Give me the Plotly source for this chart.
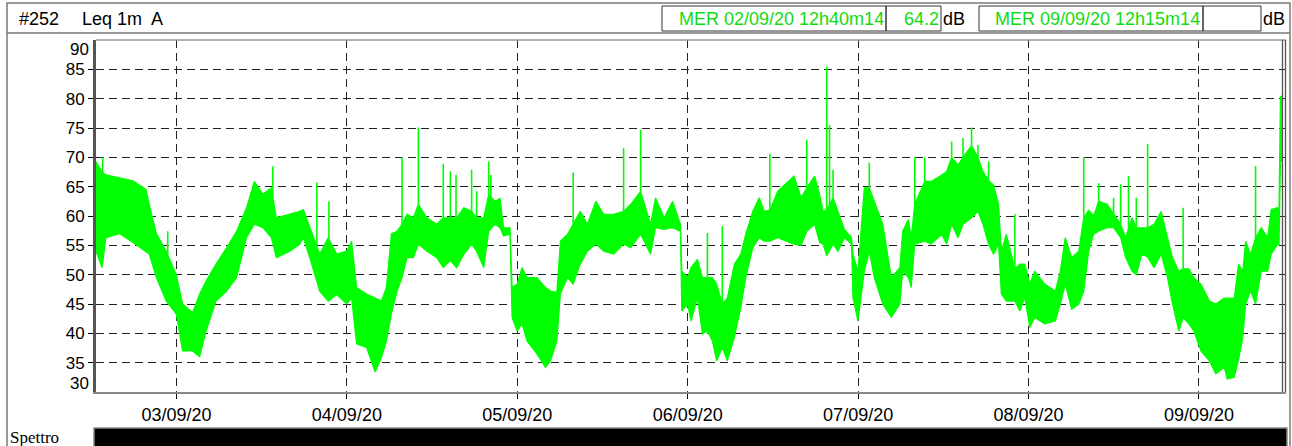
import numpy as np
import pandas as pd
import plotly.graph_objects as go

# ---------------- data ----------------
start_time = "2020-09-02 12:40:14"
end_time = "2020-09-09 12:15:14"

# hours after start_time
t_hours = [
    0, 0.85, 1.41, 3.3, 5.2, 7.06, 7.5, 8.5, 9.9, 11.3, 12.2, 13.6, 14.6, 15.5, 16.9, 18.4, 19.8, 21.2, 22.3, 23.5, 24.7, 25.4, 27.3, 28.7,
    29.2, 30.1, 31.5, 32.7, 33.9, 35.3, 36.0, 36.7, 38.1, 39.3, 40.2, 40.9, 41.6, 42.4, 43.1, 43.8, 44.7, 45.4, 46.6, 48.0, 48.9, 49.9, 50.8, 51.8, 52.9, 53.6, 54.6, 55.3, 56.2, 56.9,
    57.4, 58.3, 58.6, 59.3, 60.0, 60.7, 62.1, 63.3, 64.0, 64.9, 65.4, 66.4, 67.2, 68.2, 69.2, 70.4, 71.5, 72.9, 74.3, 75.3, 76.7, 78.1, 78.8, 80.0, 81.2, 82.3, 82.5, 83.3, 83.8, 84.7,
    85.4, 86.1, 86.8, 87.4, 88.2, 88.9, 89.9, 90.8, 91.5, 92.5, 93.4, 94.1, 94.9, 96.0, 97.2, 98.3, 99.3, 100.1, 101.2, 101.9, 102.4, 102.9, 103.8, 104.5, 105.4, 106.4, 106.6, 107.3, 108.2, 108.9, 109.6, 110.8, 112.0, 113.2,
    113.6, 114.4, 114.8, 115.3, 116.7, 117.6, 119.1, 119.8, 120.5, 121.4, 122.1, 123.3, 124.2, 124.9, 125.7, 126.4, 127.1, 127.5, 128.2, 129.4, 130.1, 130.8, 131.5, 132.2, 133.6, 135.1, 135.8, 136.5, 137.4, 138.4, 139.1, 139.8, 140.5, 141.2,
    142.4, 143.3, 144.3, 145.0, 145.9, 146.5, 147.3, 148.1, 149.0, 150.0, 150.9, 151.6, 152.5, 153.1, 153.9, 154.6, 155.6, 156.8, 157.7, 158.9, 159.3, 160.3, 160.9, 161.5, 161.9, 162.6, 163.3, 164.1, 165.0, 165.5, 166.4, 166.6, 166.8, 167.0,
]

# upper envelope of Leq 1m (dB)
leq_high = [
    69.3, 67.5, 67.0, 66.5, 66.0, 64.5, 62.0, 57.0, 54.0, 50.0, 45.0, 43.5, 46.7, 48.9, 51.8, 54.6, 57.4, 61.4, 65.9, 63.7, 64.8, 59.7, 60.3, 60.8,
    61.1, 58.0, 53.5, 56.3, 53.5, 54.0, 55.7, 47.8, 46.7, 46.0, 45.5, 47.8, 57.0, 57.4, 58.6, 60.3, 59.7, 62.0, 59.7, 58.6, 59.7, 59.7, 59.7, 61.4, 60.8, 59.7, 59.7, 63.7, 62.5, 63.0,
    58.0, 58.0, 47.8, 48.4, 51.2, 49.5, 49.5, 47.8, 47.2, 47.0, 55.7, 56.9, 58.6, 60.8, 58.6, 62.5, 60.3, 60.3, 60.8, 62.0, 64.2, 58.6, 63.1, 59.7, 62.5, 58.6, 50.6, 49.5, 51.2, 52.6,
    49.5, 49.5, 49.5, 48.4, 45.0, 46.0, 51.8, 53.5, 56.9, 60.8, 63.1, 60.8, 61.0, 64.2, 65.6, 66.8, 63.1, 64.8, 66.8, 63.7, 60.8, 61.0, 63.1, 60.8, 57.7, 56.3, 53.5, 50.6, 64.8, 64.8, 62.5, 58.6, 49.5, 51.2,
    57.4, 59.4, 56.3, 62.0, 65.9, 65.9, 67.0, 67.6, 70.0, 68.7, 70.0, 72.0, 70.0, 67.6, 66.0, 65.3, 62.0, 54.0, 56.9, 51.0, 51.8, 51.8, 48.4, 50.6, 48.4, 47.2, 50.6, 56.3, 52.9, 54.0, 59.7, 61.0, 60.0, 62.5,
    62.0, 60.3, 58.6, 56.3, 59.7, 58.0, 58.0, 58.0, 58.6, 60.8, 56.3, 52.9, 50.6, 51.0, 51.0, 49.5, 48.4, 45.5, 45.0, 46.0, 46.0, 46.0, 51.8, 50.6, 55.7, 53.5, 56.3, 58.0, 56.3, 61.1, 61.4, 61.0, 80.4, 80.4,
]

# lower envelope of Leq 1m (dB)
leq_low = [
    54.0, 51.2, 56.3, 57.0, 55.5, 54.0, 53.5, 49.5, 45.5, 43.3, 37.0, 37.0, 36.0, 40.4, 45.5, 47.2, 49.5, 56.3, 58.6, 58.0, 56.3, 52.9, 54.0, 55.2,
    56.3, 52.9, 47.2, 45.5, 46.6, 45.0, 46.0, 38.2, 37.6, 33.4, 35.9, 38.7, 43.3, 47.2, 49.5, 52.9, 52.9, 55.2, 54.0, 52.9, 51.2, 52.4, 51.2, 53.5, 55.2, 54.0, 51.2, 57.4, 58.6, 58.0,
    56.6, 56.9, 42.7, 40.4, 41.6, 38.7, 36.5, 34.2, 35.3, 38.7, 46.7, 49.5, 48.4, 51.8, 54.0, 55.2, 54.0, 53.5, 55.2, 54.6, 56.9, 53.5, 58.0, 57.7, 58.0, 57.4, 43.8, 45.0, 42.1, 46.1,
    39.9, 40.4, 38.7, 35.3, 37.6, 35.3, 39.3, 44.4, 49.5, 54.6, 56.3, 55.7, 55.7, 56.3, 55.7, 55.2, 55.0, 57.4, 58.6, 55.5, 55.2, 53.2, 55.2, 54.0, 56.3, 55.2, 46.1, 42.1, 50.6, 54.0, 49.5, 45.0, 42.7, 45.0,
    50.6, 49.5, 47.8, 55.2, 55.7, 55.2, 56.9, 55.2, 58.6, 56.3, 58.6, 59.7, 60.8, 58.6, 55.2, 53.5, 55.2, 46.7, 45.5, 45.5, 43.8, 46.1, 41.0, 42.7, 41.6, 42.1, 45.0, 48.4, 44.1, 45.0, 47.2, 54.0, 56.9, 57.4,
    58.0, 58.0, 56.3, 52.9, 50.6, 50.0, 53.5, 53.0, 51.2, 53.5, 49.5, 45.0, 40.4, 42.7, 41.6, 40.4, 37.0, 35.3, 33.1, 34.2, 32.2, 32.5, 35.5, 39.3, 45.0, 47.2, 45.0, 50.6, 50.6, 53.5, 55.2, 55.0, 69.3, 69.3,
]

# isolated short peaks
peak_hours = [0.94, 10.1, 24.9, 31.1, 32.8, 43.1, 45.4, 48.9, 49.9, 50.7, 52.9, 53.6, 55.3, 55.6,
              67.2, 74.3, 76.7, 86.1, 88.2, 94.9, 100.1, 102.9, 103.3, 103.8, 108.9,
              115.3, 116.7, 120.5, 122.1, 123.3, 124.2, 125.7, 129.4, 139.1, 141.2,
              143.3, 144.3, 145.4, 146.5, 148.1, 153.1, 163.3]
peak_values = [70.0, 57.4, 68.5, 65.7, 62.5, 70.0, 75.1, 68.9, 67.6, 67.0, 67.9, 64.2, 69.3, 67.0,
               67.4, 71.6, 74.7, 57.1, 58.3, 70.6, 73.0, 85.5, 75.5, 67.9, 69.1,
               70.0, 70.0, 72.7, 73.3, 75.1, 72.1, 69.3, 60.3, 70.0, 65.6,
               63.1, 65.4, 66.8, 63.1, 72.3, 61.4, 68.5]

date_ticks = ["2020-09-03", "2020-09-04", "2020-09-05", "2020-09-06", "2020-09-07", "2020-09-08", "2020-09-09"]
date_labels = ["03/09/20", "04/09/20", "05/09/20", "06/09/20", "07/09/20", "08/09/20", "09/09/20"]
y_ticks = [35, 40, 45, 50, 55, 60, 65, 70, 75, 80, 85]

header_left = "#252"
header_mode = "Leq 1m  A"
cursor1 = "MER 02/09/20 12h40m14"
cursor1_val = "64.2"
cursor2 = "MER 09/09/20 12h15m14"
cursor2_val = ""
unit = "dB"
bottom_label = "Spettro"

# ---------------- figure ----------------
GREEN = "#00ff00"
TXT_GREEN = "#10dc10"
SANS = "Liberation Sans, Arial, sans-serif"
SERIF = "Liberation Serif, Times New Roman, serif"

t0 = pd.Timestamp(start_time)
times = t0 + pd.to_timedelta(t_hours, unit="h")
ptimes = t0 + pd.to_timedelta(peak_hours, unit="h")

fig = go.Figure()
fig.add_trace(go.Scatter(x=times, y=leq_low, mode="lines",
                         line=dict(color=GREEN, width=1.2), hoverinfo="skip", showlegend=False))
fig.add_trace(go.Scatter(x=times, y=leq_high, mode="lines", fill="tonexty", fillcolor=GREEN,
                         line=dict(color=GREEN, width=1.2), hoverinfo="skip", showlegend=False))

base = np.interp(peak_hours, t_hours, leq_high)
px_, py_ = [], []
for tt, b, v in zip(ptimes, base, peak_values):
    px_ += [tt, tt, None]
    py_ += [b, v, None]
fig.add_trace(go.Scatter(x=px_, y=py_, mode="lines", line=dict(color=GREEN, width=1.6),
                         hoverinfo="skip", showlegend=False))

# plot-area geometry in pixels
W, H = 1292, 446
L, R, T, B = 96, 1286, 40, 392


def xp(px):
    return (px - L) / (R - L)


def yp(py):
    return (B - py) / (B - T)


shapes = []
GREY = "#7a7a7a"
# outer frame
shapes.append(dict(type="rect", xref="paper", yref="paper", x0=xp(7), x1=xp(1290), y0=yp(3), y1=yp(460),
                   line=dict(color=GREY, width=1.5), layer="above"))
# header separator
shapes.append(dict(type="line", xref="paper", yref="paper", x0=xp(7), x1=xp(1290), y0=yp(33), y1=yp(33),
                   line=dict(color=GREY, width=1.5)))
# header boxes
for a, b in [(662, 886), (886, 941), (979, 1203), (1203, 1261)]:
    shapes.append(dict(type="rect", xref="paper", yref="paper", x0=xp(a), x1=xp(b), y0=yp(6), y1=yp(31),
                       line=dict(color="#333333", width=1)))
# plot top line
shapes.append(dict(type="line", xref="paper", yref="paper", x0=0, x1=1, y0=1, y1=1,
                   line=dict(color="#999999", width=1.5), layer="above"))
# right double border
for x in (1282.5, 1285.5):
    shapes.append(dict(type="line", xref="paper", yref="paper", x0=xp(x), x1=xp(x), y0=0, y1=1,
                       line=dict(color="#555555", width=1.3), layer="above"))
# spectrum bar
shapes.append(dict(type="rect", xref="paper", yref="paper", x0=xp(94), x1=xp(1287), y0=yp(428), y1=yp(452),
                   fillcolor="black", line=dict(color="#888888", width=1.5)))

ann = []
ann.append(dict(text=header_left, x=xp(17), y=yp(19), xref="paper", yref="paper", xanchor="left",
                yanchor="middle", showarrow=False, font=dict(family=SANS, size=18, color="black")))
ann.append(dict(text=header_mode, x=xp(80), y=yp(19), xref="paper", yref="paper", xanchor="left",
                yanchor="middle", showarrow=False, font=dict(family=SANS, size=18, color="black")))
ann.append(dict(text=cursor1, x=xp(886), y=yp(19), xref="paper", yref="paper", xanchor="right",
                yanchor="middle", showarrow=False, font=dict(family=SANS, size=18, color=TXT_GREEN)))
ann.append(dict(text=cursor1_val, x=xp(941), y=yp(19), xref="paper", yref="paper", xanchor="right",
                yanchor="middle", showarrow=False, font=dict(family=SANS, size=18, color=TXT_GREEN)))
ann.append(dict(text=unit, x=xp(941), y=yp(19), xref="paper", yref="paper", xanchor="left",
                yanchor="middle", showarrow=False, font=dict(family=SANS, size=18, color="black")))
ann.append(dict(text=cursor2, x=xp(1202), y=yp(19), xref="paper", yref="paper", xanchor="right",
                yanchor="middle", showarrow=False, font=dict(family=SANS, size=18, color=TXT_GREEN)))
ann.append(dict(text=cursor2_val, x=xp(1260), y=yp(19), xref="paper", yref="paper", xanchor="right",
                yanchor="middle", showarrow=False, font=dict(family=SANS, size=18, color=TXT_GREEN)))
ann.append(dict(text=unit, x=xp(1261), y=yp(19), xref="paper", yref="paper", xanchor="left",
                yanchor="middle", showarrow=False, font=dict(family=SANS, size=18, color="black")))
# end labels of the y axis
ann.append(dict(text="90", x=0, y=90, xref="paper", yref="y", xanchor="right", yanchor="top",
                xshift=-5, yshift=2, showarrow=False, font=dict(family=SANS, size=17, color="black")))
ann.append(dict(text="30", x=0, y=30, xref="paper", yref="y", xanchor="right", yanchor="bottom",
                xshift=-5, yshift=-3, showarrow=False, font=dict(family=SANS, size=17, color="black")))
ann.append(dict(text=bottom_label, x=xp(8), y=yp(437), xref="paper", yref="paper", xanchor="left",
                yanchor="middle", showarrow=False, font=dict(family=SERIF, size=17, color="black")))

fig.update_layout(
    width=W, height=H, autosize=False,
    margin=dict(l=L, r=W - R, t=T, b=H - B, pad=0),
    paper_bgcolor="white", plot_bgcolor="white",
    shapes=shapes, annotations=ann, showlegend=False,
    xaxis=dict(type="date", range=[start_time, end_time], tickvals=date_ticks, ticktext=date_labels,
               showgrid=True, gridcolor="#222222", gridwidth=1, griddash="8px,5px",
               ticks="outside", ticklen=5, tickcolor="black", tickwidth=1,
               showline=True, linecolor="#888888", linewidth=2, zeroline=False,
               tickfont=dict(family=SANS, size=18, color="black")),
    yaxis=dict(range=[30, 90], tickvals=y_ticks, showgrid=True, gridcolor="#222222", gridwidth=1,
               griddash="8px,5px", ticks="outside", ticklen=5, tickcolor="black",
               showline=True, linecolor="#555555", linewidth=3, zeroline=False,
               tickfont=dict(family=SANS, size=17, color="black")),
)

fig.write_html("out.html", config={"displayModeBar": False},
               post_script="document.body.style.margin='0';")
